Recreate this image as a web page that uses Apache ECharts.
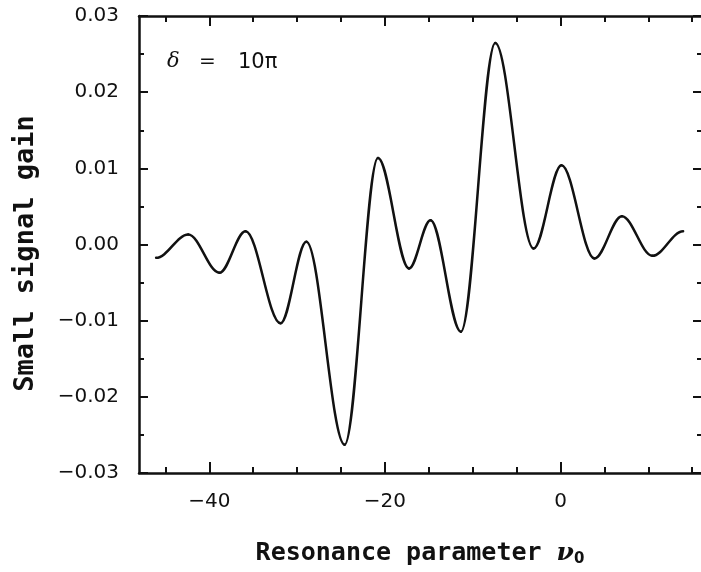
<!DOCTYPE html>
<html><head><meta charset="utf-8">
<script src="https://cdn.jsdelivr.net/npm/echarts@6/dist/echarts.min.js"></script>
<style>html,body{margin:0;padding:0;background:#fff}#c{width:701px;height:572px}</style>
</head><body><div id="c"></div>
<script>
// Turning points of the curve (resonance parameter nu0 -> small signal gain),
// including the two ends of the trace
const nu0  = [-46.05, -42.39, -38.84, -35.87, -31.88, -28.94, -24.58, -20.79, -17.25, -14.80, -11.34, -7.43, -3.07, 0.11, 3.86, 6.99, 10.46, 13.96];
const gain = [-0.00175, 0.00131, -0.00372, 0.00174, -0.01035, 0.00035, -0.02629, 0.01135, -0.00315, 0.00318, -0.01145, 0.02646, -0.00053, 0.01039, -0.00184, 0.00371, -0.00149, 0.00174];
const xMajorTicks = [-40, -20, 0];
const xMinorTicks = [-45, -35, -30, -25, -15, -10, -5, 5, 10, 15];
const xRange = [-48, 16];
const yRange = [-0.03, 0.03];
const yStep = 0.01;

const fmtY = v => (Math.abs(v) < 1e-9 ? '0.00' : v.toFixed(2)).replace('-', '\u2212');
const fmtX = v => String(v).replace('-', '\u2212');

const data = nu0.map((x, i) => [x, gain[i]]);
const ink = '#111';
const labelFont = {fontFamily: 'DejaVu Sans', fontSize: 20, color: ink};
const K = 0.35; // bezier handle fraction; turning points get horizontal tangents

function xAx(pos, ticks, len, showLine, showLabel, extra) {
  return Object.assign({
    type: 'value', position: pos, min: xRange[0], max: xRange[1], gridIndex: 0,
    axisLine: {show: showLine, onZero: false, lineStyle: {color: ink, width: 2.5}},
    axisTick: {show: true, inside: true, length: len, customValues: ticks, lineStyle: {color: ink, width: 2}},
    axisLabel: showLabel ? Object.assign({show: true, customValues: ticks, margin: 19, formatter: fmtX}, labelFont) : {show: false},
    splitLine: {show: false}
  }, extra || {});
}

const option = {
  animation: false,
  backgroundColor: '#fff',
  grid: {left: 139, right: 0, top: 16, bottom: 98},
  xAxis: [
    xAx('bottom', xMajorTicks, 11, true, true, {
      name: 'Resonance parameter {nu|\u03bd}{sub|0}', nameLocation: 'middle', nameGap: 67,
      nameTextStyle: {fontFamily: 'DejaVu Sans Mono', fontWeight: 'bold', fontSize: 25, color: ink,
        rich: {nu: {fontFamily: 'DejaVu Serif', fontStyle: 'italic', fontWeight: 'bold', fontSize: 25, color: ink},
               sub: {fontFamily: 'DejaVu Sans', fontWeight: 'bold', fontSize: 15, verticalAlign: 'bottom', padding: [12, 0, 0, 0], color: ink}}}
    }),
    xAx('bottom', xMinorTicks, 6, false, false),
    xAx('top', xMajorTicks, 10, true, false),
    xAx('top', xMinorTicks, 6, false, false)
  ],
  yAxis: [
    {type: 'value', position: 'left', min: yRange[0], max: yRange[1], interval: yStep,
     axisLine: {show: true, onZero: false, lineStyle: {color: ink, width: 2.5}},
     axisTick: {show: true, inside: true, length: 9, lineStyle: {color: ink, width: 2}},
     minorTick: {show: true, splitNumber: 2, length: 5, lineStyle: {color: ink, width: 2}},
     axisLabel: Object.assign({margin: 20, formatter: fmtY}, labelFont),
     splitLine: {show: false}, minorSplitLine: {show: false},
     name: 'Small signal gain', nameLocation: 'middle', nameGap: 100, nameRotate: 90,
     nameTextStyle: {fontFamily: 'DejaVu Sans Mono', fontWeight: 'bold', fontSize: 27, color: ink, padding: [0, 18, 0, 0]}},
    {type: 'value', position: 'right', min: yRange[0], max: yRange[1], interval: yStep,
     axisLine: {show: false, onZero: false},
     axisTick: {show: true, inside: true, length: 8, lineStyle: {color: ink, width: 2}},
     minorTick: {show: true, splitNumber: 2, length: 4, lineStyle: {color: ink, width: 2}},
     axisLabel: {show: false}, splitLine: {show: false}, minorSplitLine: {show: false}}
  ],
  graphic: [
    {type: 'text', left: 167, top: 51, style: {text: '\u03b4', font: 'italic 21px "DejaVu Serif"', fill: ink}},
    {type: 'text', left: 199, top: 52, style: {text: '=', font: '20px "DejaVu Sans"', fill: ink}},
    {type: 'text', left: 238, top: 52, style: {text: '10\u03c0', font: '21px "DejaVu Sans"', fill: ink}}
  ],
  series: [{
    type: 'custom', xAxisIndex: 0, yAxisIndex: 0, data: data, silent: true,
    encode: {x: 0, y: 1},
    renderItem: function (params, api) {
      const i = params.dataIndex;
      if (i >= data.length - 1) return null;
      const p0 = api.coord(data[i]);
      const p1 = api.coord(data[i + 1]);
      const dx = p1[0] - p0[0];
      return {
        type: 'bezierCurve',
        shape: {x1: p0[0], y1: p0[1], x2: p1[0], y2: p1[1],
                cpx1: p0[0] + K * dx, cpy1: p0[1], cpx2: p1[0] - K * dx, cpy2: p1[1]},
        style: {stroke: ink, lineWidth: 2.5, fill: 'none', lineCap: 'round'}
      };
    }
  }]
};
const chart = echarts.init(document.getElementById('c'), null, {renderer: 'canvas'});
chart.setOption(option);
</script></body></html>
